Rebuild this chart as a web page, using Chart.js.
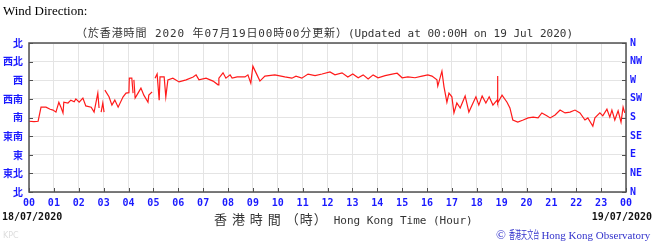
<!DOCTYPE html>
<html lang="zh-HK">
<head>
<meta charset="UTF-8">
<title>Wind Direction</title>
<script src="https://cdn.jsdelivr.net/npm/chart.js"></script>
<style>
  body { margin: 0; background: #fff; width: 655px; height: 248px; position: relative; overflow: hidden; }
  #wind { position: absolute; left: 0; top: 0; }
  .txt { position: absolute; white-space: nowrap; }
  .head { left: 3px; top: 3px; font: 13px 'Liberation Serif', serif; color: #000; }
  .title { left: 76px; top: 28px; font: 11px 'DejaVu Sans Mono', 'Noto Sans CJK TC', monospace; color: #333; line-height: 12px; }
  .title .zh { letter-spacing: 0.9px; }
  .date { top: 211px; font: bold 10px 'DejaVu Sans Mono', monospace; color: #111; }
  .xtitle { left: 214px; top: 209px; font: 11px 'DejaVu Sans Mono', monospace; color: #333; line-height: 14px; }
  .xtitle .zh { font: 13px 'Noto Sans CJK TC', sans-serif; letter-spacing: 1px; margin-right: 6px; }
  .credit { left: 496px; top: 226px; font: 11px 'Liberation Serif', serif; color: #3333cc; line-height: 14px; }
  .credit .c { font-size: 13px; }
  .credit .zh { display: inline-block; font: 11px 'Noto Sans CJK TC', sans-serif; transform: scaleX(0.55); transform-origin: left center; margin-right: -25px; }
  .kpc { left: 3px; top: 231px; font: 8px 'DejaVu Sans', sans-serif; color: #ddd; }
</style>
</head>
<body>
<canvas id="wind" width="655" height="248"></canvas>
<div class="txt head">Wind Direction:</div>
<div class="txt title"><span class="zh">（於香港時間 2020 年07月19日00時00分更新）</span>(Updated at 00:00H on 19 Jul 2020)</div>
<div class="txt date" style="left:2px">18/07/2020</div>
<div class="txt date" style="right:3px">19/07/2020</div>
<div class="txt xtitle"><span class="zh">香 港 時 間 （時）</span>Hong Kong Time (Hour)</div>
<div class="txt credit"><span class="c">©</span> <span class="zh">香港天文台</span> Hong Kong Observatory</div>
<div class="txt kpc">KPC</div>
<script>
// minutes after 00:00 HKT on 18/07/2020, direction in degrees (null = no data)
const minutes = [
  0, 12, 22, 29, 41, 51, 58, 65, 72, 77, 82, 84, 94, 101, 109, 113, 121, 130, 137, 150,
  157, 166, 169, 170, 174, 178, 181, 182, 183, 193, 200, 207, 215, 227, 234, 241, 242, 248, 251, 252,
  253, 256, 263, 270, 277, 287, 289, 297, 299, 304, 309, 314, 316, 326, 330, 335, 347, 362, 379, 396,
  403, 410, 427, 444, 456, 458, 468, 475, 485, 490, 502, 521, 528, 535, 540, 550, 557, 569, 593, 617,
  634, 644, 658, 673, 690, 707, 726, 738, 755, 769, 781, 794, 806, 818, 830, 842, 859, 876, 888, 900,
  914, 931, 948, 962, 972, 984, 986, 996, 1001, 1008, 1013, 1020, 1025, 1032, 1040, 1052, 1061, 1071, 1078, 1085,
  1093, 1102, 1110, 1119, 1129, 1130, 1131, 1141, 1153, 1160, 1167, 1179, 1192, 1204, 1216, 1228, 1237, 1249, 1257, 1269,
  1281, 1293, 1305, 1317, 1329, 1341, 1348, 1360, 1365, 1377, 1384, 1394, 1401, 1406, 1413, 1421, 1428, 1433, 1437
]
const degrees = [
  171, 170, 171, 205, 205, 200, 198, 193, 217, 205, 191, 217, 215, 222, 218, 225, 217, 227, 208, 205,
  193, 239, 203, null, 193, 215, 193, null, 246, 230, 210, 222, 205, 230, 239, 240, 275, 275, 239, null,
  271, 227, 239, 251, 234, 217, 234, 242, null, 275, 285, 222, 278, 278, 230, 271, 275, 266, 271, 278,
  283, 271, 275, 268, 259, 275, 288, 275, 283, 275, 278, 278, 283, 263, 304, 283, 268, 280, 283, 278,
  275, 280, 275, 285, 281, 285, 290, 283, 288, 278, 285, 276, 283, 273, 283, 276, 281, 285, 287, 276,
  278, 276, 280, 283, 280, 271, 256, 292, 254, 217, 239, 230, 191, 215, 203, 232, 193, 215, 230, 210,
  232, 215, 230, 210, 222, 280, 215, 234, 217, 203, 174, 169, 174, 179, 181, 179, 191, 184, 179, 186,
  198, 191, 193, 198, 191, 174, 179, 159, 179, 191, 184, 200, 181, 198, 174, 196, 169, 205, 191
]
const hourLabels = ['00','01','02','03','04','05','06','07','08','09','10','11','12',
  '13','14','15','16','17','18','19','20','21','22','23','00']
const dirZh = ['北','東北','東','東南','南','西南','西','西北','北']
const dirEn = ['N','NE','E','SE','S','SW','W','NW','N']

const blue = '#1a1aff'
const gridColor = '#e4e4e4'
const frameColor = '#505050'

// frame and the short inward tick marks
const framePlugin = {
  id: 'frame',
  afterDraw(chart) {
    const { ctx, chartArea: a, scales } = chart
    ctx.save()
    ctx.strokeStyle = frameColor
    ctx.lineWidth = 1.5
    ctx.strokeRect(a.left, a.top, a.right - a.left, a.bottom - a.top)
    ctx.lineWidth = 1
    ctx.beginPath()
    scales.y.ticks.forEach(t => {
      const py = Math.round(scales.y.getPixelForValue(t.value)) + 0.5
      ctx.moveTo(a.left, py); ctx.lineTo(a.left + 4, py)
      ctx.moveTo(a.right, py); ctx.lineTo(a.right - 4, py)
    })
    scales.x.ticks.forEach(t => {
      const px = Math.round(scales.x.getPixelForValue(t.value)) + 0.5
      ctx.moveTo(px, a.bottom); ctx.lineTo(px, a.bottom - 4)
    })
    ctx.stroke()
    ctx.restore()
  }
}

new Chart(document.getElementById('wind'), {
  type: 'line',
  data: {
    datasets: [{
      data: minutes.map((m, i) => ({ x: m, y: degrees[i] })),
      borderColor: '#ff1a1a',
      borderWidth: 1.2,
      pointRadius: 0,
      tension: 0,
      spanGaps: false
    }]
  },
  options: {
    responsive: false,
    animation: false,
    devicePixelRatio: 1,
    layout: { padding: { top: 43, left: 0, right: 0, bottom: 0 } },
    plugins: { legend: { display: false }, tooltip: { enabled: false } },
    scales: {
      x: {
        type: 'linear', min: 0, max: 1440,
        afterFit: s => { s.height = 56 },
        grid: { color: gridColor, drawTicks: false },
        border: { display: false },
        ticks: {
          stepSize: 60, padding: 5, color: blue, maxRotation: 0, autoSkip: false,
          font: { family: 'DejaVu Sans Mono', size: 10, weight: 'bold' },
          callback: v => hourLabels[v / 60]
        }
      },
      y: {
        position: 'left', min: 0, max: 360,
        afterFit: s => { s.width = 29 },
        grid: { color: gridColor, drawTicks: false },
        border: { display: false },
        ticks: {
          stepSize: 45, padding: 6, color: blue,
          font: { family: 'Noto Sans CJK TC', size: 10, weight: 'bold' },
          callback: v => dirZh[v / 45]
        }
      },
      y2: {
        position: 'right', min: 0, max: 360,
        afterFit: s => { s.width = 29 },
        grid: { display: false, drawTicks: false },
        border: { display: false },
        ticks: {
          stepSize: 45, padding: 4, color: blue,
          font: { family: 'DejaVu Sans Mono', size: 10, weight: 'bold' },
          callback: v => dirEn[v / 45]
        }
      }
    }
  },
  plugins: [framePlugin]
})
</script>
</body>
</html>
